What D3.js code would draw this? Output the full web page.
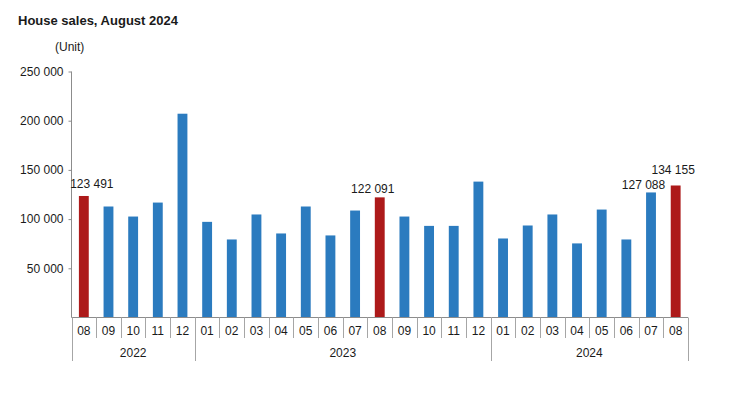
<!DOCTYPE html>
<html>
<head>
<meta charset="utf-8">
<script src="https://cdn.jsdelivr.net/npm/d3@7"></script>
<style>
  body { margin: 0; background: #fff; }
  text { font-family: "Liberation Sans", Arial, sans-serif; fill: #1a1a1a; }
</style>
</head>
<body>
<svg id="chart" width="745" height="396"></svg>
<script>
// data
const months = ['08','09','10','11','12','01','02','03','04','05','06','07','08','09','10','11','12','01','02','03','04','05','06','07','08'];
const years = ['2022','2022','2022','2022','2022','2023','2023','2023','2023','2023','2023','2023','2023','2023','2023','2023','2023','2024','2024','2024','2024','2024','2024','2024','2024'];
const sales = [123491,112800,102600,116800,207100,97200,79300,104700,85400,112800,83400,108700,122091,102600,93100,93100,138100,80300,93500,104700,75300,109700,79300,127088,134155];
const highlighted = [0, 12, 24];
const labelled = [0, 12, 23, 24];
const yTicks = [50000, 100000, 150000, 200000, 250000];

const svg = d3.select('#chart');
const mLeft = 71.5, mRight = 688, mTop = 71.5, mBottom = 317.5;

const x = d3.scaleBand()
  .domain(d3.range(sales.length))
  .range([mLeft, mRight])
  .paddingInner(0.6)
  .paddingOuter(0.3);

const y = d3.scaleLinear().domain([0, 250000]).range([mBottom, mTop]);

const fmt = v => d3.format(',')(v).replace(/,/g, ' ');

// title
svg.append('text')
  .attr('x', 18).attr('y', 25)
  .style('font-size', '13px').style('font-weight', 'bold')
  .text('House sales, August 2024');

svg.append('text')
  .attr('x', 55).attr('y', 51)
  .style('font-size', '12px')
  .text('(Unit)');

// y axis
const yAxis = svg.append('g')
  .attr('transform', `translate(${mLeft},0)`)
  .call(d3.axisLeft(y).tickValues(yTicks).tickSize(3).tickPadding(5).tickFormat(fmt));
yAxis.select('.domain').attr('stroke', '#8c8c8c').attr('d', `M-0,${mTop}V${mBottom}`);
yAxis.selectAll('.tick line').attr('stroke', '#8c8c8c');
yAxis.selectAll('.tick text').style('font-size', '12px').attr('fill', '#1a1a1a');

// bars
svg.selectAll('.bar')
  .data(sales)
  .join('rect')
  .attr('class', 'bar')
  .attr('x', (d, i) => x(i))
  .attr('y', d => y(d))
  .attr('width', x.bandwidth())
  .attr('height', d => mBottom - y(d))
  .attr('fill', (d, i) => highlighted.includes(i) ? '#ad1a1a' : '#2b7bbf');

// value labels (nudged like the original)
const labelShift = {0: 8, 12: -7, 23: -7.5, 24: -2.5};
const labelLift = {0: 8, 12: 4, 23: 3.5, 24: 11};
svg.selectAll('.val')
  .data(labelled)
  .join('text')
  .attr('class', 'val')
  .attr('x', i => x(i) + x.bandwidth() / 2 + labelShift[i])
  .attr('y', i => y(sales[i]) - labelLift[i])
  .attr('text-anchor', 'middle')
  .style('font-size', '12px')
  .text(i => fmt(sales[i]));

// x axis
const step = x.step();
const edge = i => mLeft + i * step;
svg.append('line')
  .attr('x1', mLeft).attr('x2', mRight)
  .attr('y1', mBottom).attr('y2', mBottom)
  .attr('stroke', '#8c8c8c');

// month separators
svg.selectAll('.msep')
  .data(d3.range(1, sales.length))
  .join('line')
  .attr('class', 'msep')
  .attr('x1', i => Math.round(edge(i)) + 0.5).attr('x2', i => Math.round(edge(i)) + 0.5)
  .attr('y1', mBottom).attr('y2', 338)
  .attr('stroke', '#a6a6a6');

// year separators
const yearGroups = d3.groups(d3.range(sales.length), i => years[i]);
const yearEdges = [0];
yearGroups.forEach(([, idx]) => yearEdges.push(idx[idx.length - 1] + 1));
svg.selectAll('.ysep')
  .data(yearEdges)
  .join('line')
  .attr('class', 'ysep')
  .attr('x1', i => Math.round(edge(i)) + 0.5).attr('x2', i => Math.round(edge(i)) + 0.5)
  .attr('y1', mBottom).attr('y2', 361)
  .attr('stroke', '#a6a6a6');

svg.selectAll('.mlab')
  .data(months)
  .join('text')
  .attr('class', 'mlab')
  .attr('x', (d, i) => x(i) + x.bandwidth() / 2)
  .attr('y', 335)
  .attr('text-anchor', 'middle')
  .style('font-size', '12px')
  .text(d => d);

svg.selectAll('.ylab')
  .data(yearGroups)
  .join('text')
  .attr('class', 'ylab')
  .attr('x', ([, idx]) => (edge(idx[0]) + edge(idx[idx.length - 1] + 1)) / 2)
  .attr('y', 357)
  .attr('text-anchor', 'middle')
  .style('font-size', '12px')
  .text(([yr]) => yr);
</script>
</body>
</html>
